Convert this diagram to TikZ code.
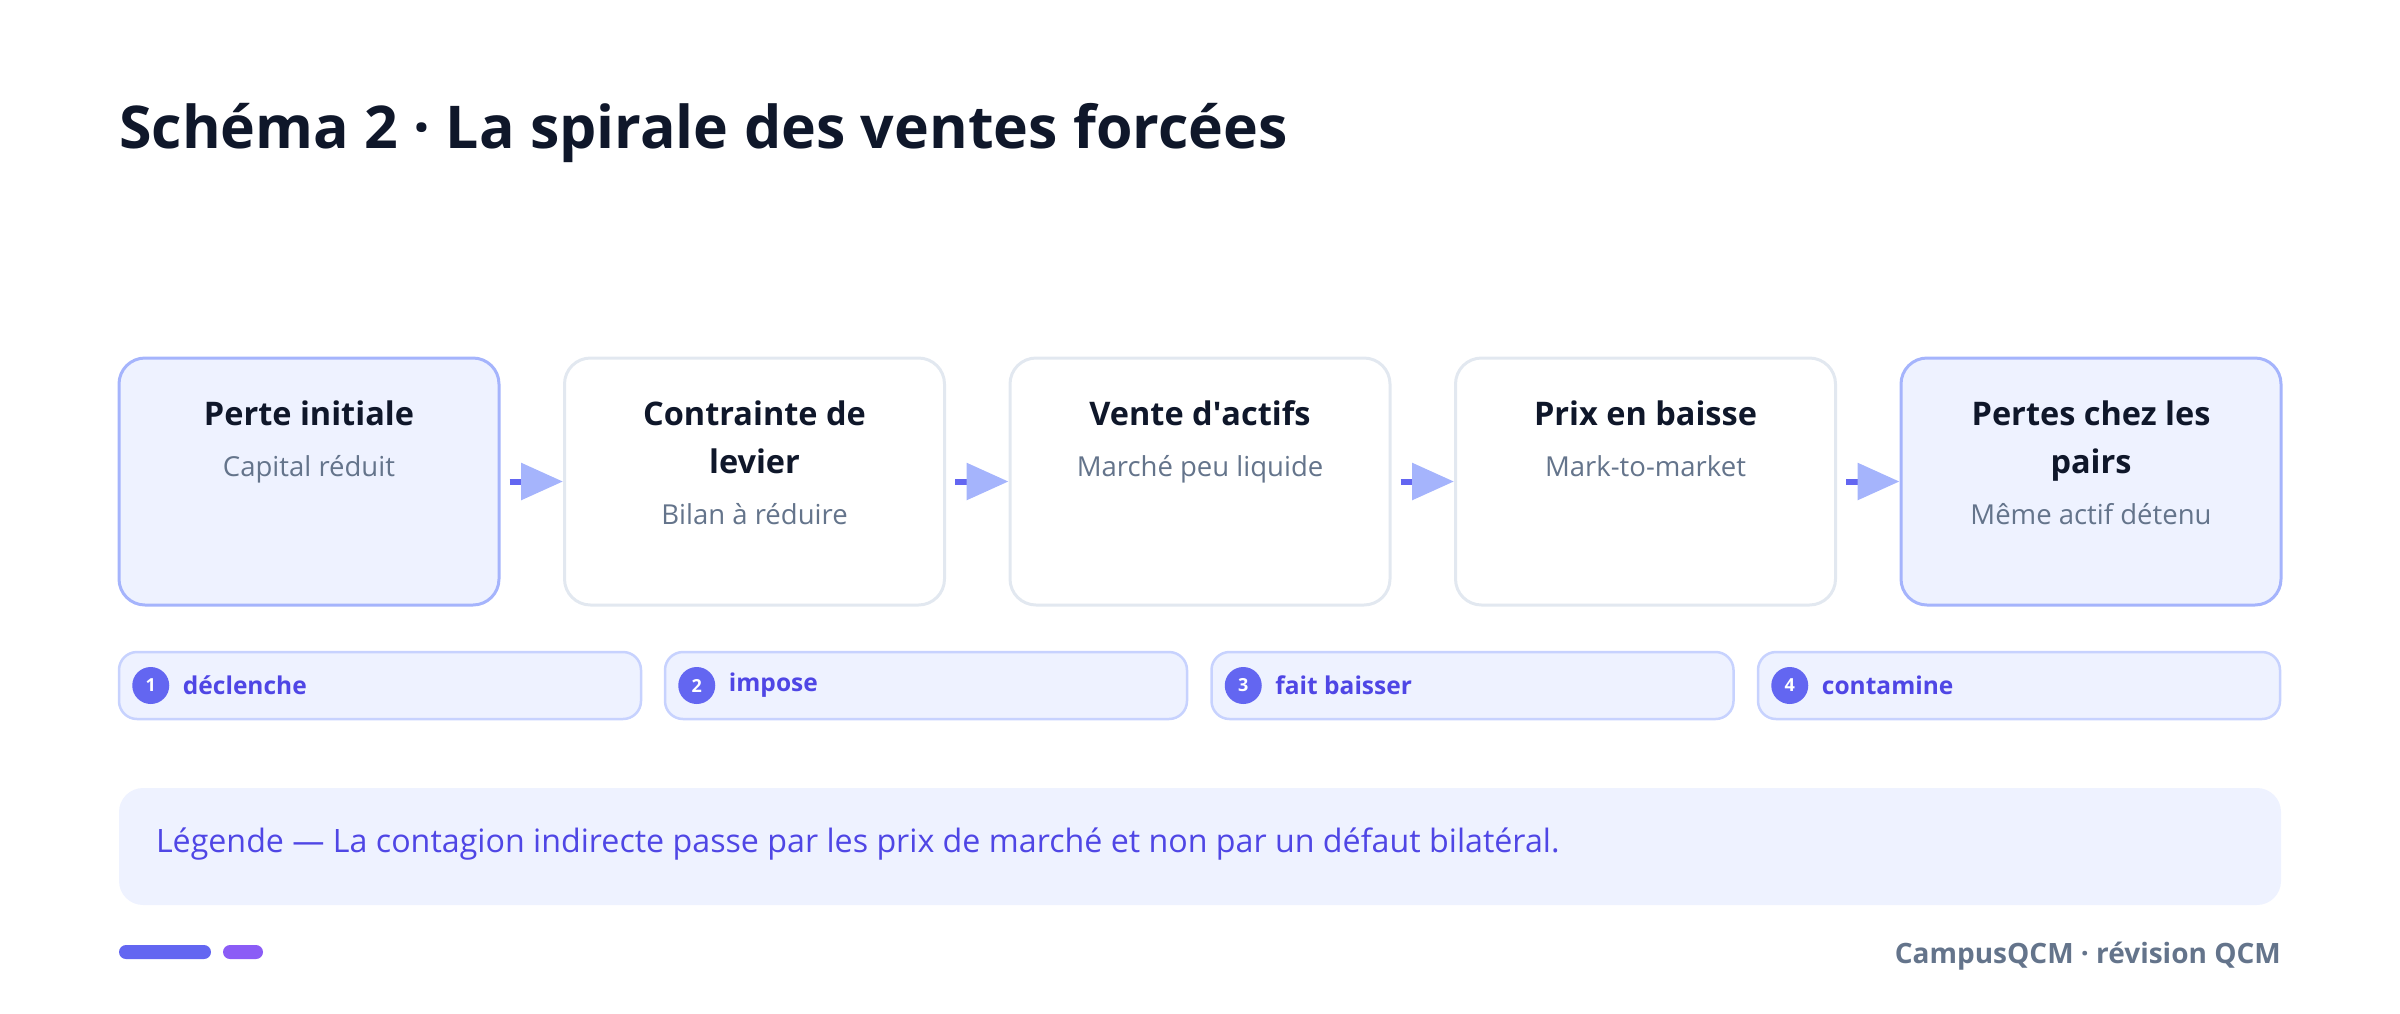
\documentclass[tikz,border=0pt]{standalone}
\usepackage{fontspec}
\setmainfont{Open Sans}
\usetikzlibrary{arrows.meta}
\definecolor{ink}{HTML}{0F172A}
\definecolor{slate}{HTML}{64748B}
\definecolor{indA}{HTML}{6366F1}
\definecolor{indB}{HTML}{4F46E5}
\definecolor{indL}{HTML}{A5B4FC}
\definecolor{indP}{HTML}{EEF2FF}
\definecolor{indE}{HTML}{C7D2FE}
\definecolor{grayE}{HTML}{E2E8F0}
\definecolor{violet}{HTML}{8B5CF6}
\tikzset{
  stepbox/.style={draw=grayE, line width=3pt, fill=white, rounded corners=26pt, minimum width=380pt, minimum height=247pt, inner sep=0pt},
  keybox/.style={stepbox, draw=indL, fill=indP},
  ttl/.style={anchor=base, font=\fontsize{32.5}{38}\selectfont\bfseries, text=ink, inner sep=0pt},
  sub/.style={anchor=base, font=\fontsize{27.5}{32}\selectfont, text=slate, inner sep=0pt},
  flow/.style={line width=6pt, draw=indA, -{Triangle[length=42pt,width=36pt,color=indL]}},
  badge/.style={draw=indE, line width=2.5pt, fill=indP, rounded corners=18pt, minimum width=522pt, minimum height=67pt, inner sep=0pt},
  num/.style={circle, fill=indA, minimum size=37pt, inner sep=0pt, text=white, font=\fontsize{18}{22}\selectfont\bfseries},
  blab/.style={anchor=west, inner sep=0pt, text=indB, font=\fontsize{24.5}{30}\selectfont\bfseries},
}
\begin{document}
\begin{tikzpicture}[x=1pt,y=-1pt]
\useasboundingbox (0,0) rectangle (2400,1013);
\node[anchor=base west, inner sep=0pt, text=ink, font=\fontsize{59}{70}\selectfont\bfseries] (title) at (119,148) {Schéma 2 · La spirale des ventes forcées};

% step boxes
\node[keybox]  (b1) at (309,481.5) {};
\node[stepbox] (b2) at (754.5,481.5) {};
\node[stepbox] (b3) at (1200,481.5) {};
\node[stepbox] (b4) at (1645.5,481.5) {};
\node[keybox]  (b5) at (2091,481.5) {};

\node[ttl] (t1) at ([yshift=-69pt]b1.north) {Perte initiale};
\node[sub] (s1) at ([yshift=-120pt]b1.north) {Capital réduit};
\node[ttl] (t2a) at ([yshift=-69pt]b2.north) {Contrainte de};
\node[ttl] (t2b) at ([yshift=-117pt]b2.north) {levier};
\node[sub] (s2) at ([yshift=-168pt]b2.north) {Bilan à réduire};
\node[ttl] (t3) at ([yshift=-69pt]b3.north) {Vente d\textquotesingle actifs};
\node[sub] (s3) at ([yshift=-120pt]b3.north) {Marché peu liquide};
\node[ttl] (t4) at ([yshift=-69pt]b4.north) {Prix en baisse};
\node[sub] (s4) at ([yshift=-120pt]b4.north) {Mark-to-market};
\node[ttl] (t5a) at ([yshift=-69pt]b5.north) {Pertes chez les};
\node[ttl] (t5b) at ([yshift=-117pt]b5.north) {pairs};
\node[sub] (s5) at ([yshift=-168pt]b5.north) {Même actif détenu};

\draw[flow] ([xshift=9pt]b1.east) -- (b2.west);
\draw[flow] ([xshift=9pt]b2.east) -- (b3.west);
\draw[flow] ([xshift=9pt]b3.east) -- (b4.west);
\draw[flow] ([xshift=9pt]b4.east) -- (b5.west);

% badges
\node[badge] (g1) at (380,685.5) {};
\node[badge] (g2) at (926,685.5) {};
\node[badge] (g3) at (1472.5,685.5) {};
\node[badge] (g4) at (2019,685.5) {};
\node[num] (n1) at ([xshift=33pt]g1.west) {1};
\node[num] (n2) at ([xshift=33pt]g2.west) {2};
\node[num] (n3) at ([xshift=33pt]g3.west) {3};
\node[num] (n4) at ([xshift=33pt]g4.west) {4};
\node[blab] (l1) at ([xshift=65pt,yshift=0pt]g1.west) {déclenche};
\node[blab] (l2) at ([xshift=65pt,yshift=0pt]g2.west) {impose};
\node[blab] (l3) at ([xshift=65pt,yshift=0pt]g3.west) {fait baisser};
\node[blab] (l4) at ([xshift=65pt,yshift=0pt]g4.west) {contamine};

% legend
\node[fill=indP, rounded corners=24pt, minimum width=2162pt, minimum height=117pt, inner sep=0pt] (leg) at (1200,846.5) {};
\node[anchor=west, inner sep=0pt, text=indB, font=\fontsize{32.2}{38}\selectfont] (legt) at ([xshift=37pt,yshift=2pt]leg.west) {Légende — La contagion indirecte passe par les prix de marché et non par un défaut bilatéral.};

% footer
\node[fill=indA, rounded corners=7pt, minimum width=92pt, minimum height=14pt, inner sep=0pt] (bar1) at (165,952) {};
\node[fill=violet, rounded corners=7pt, minimum width=40pt, minimum height=14pt, inner sep=0pt] (bar2) at (243,952) {};
\node[anchor=east, inner sep=0pt, text=slate, font=\fontsize{28}{34}\selectfont\bfseries] (foot) at (2281,956) {CampusQCM · révision QCM};
\end{tikzpicture}
\end{document}
